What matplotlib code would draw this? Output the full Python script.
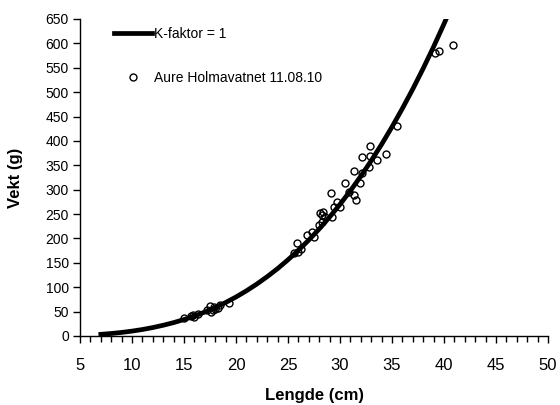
import matplotlib.pyplot as plt
from matplotlib.ticker import MultipleLocator

plt.rcParams['font.family'] = ['Liberation Sans', 'DejaVu Sans']

# Reference curve, condition factor K = 1 (weight in g per length in cm)
k_length = [7, 8, 9, 10, 11, 12, 13, 14, 15, 16, 17, 18, 19, 20, 21, 22, 23, 24,
            25, 26, 27, 28, 29, 30, 31, 32, 33, 34, 35, 36, 37, 38, 39, 40, 41]
k_weight = [3.4, 5.1, 7.3, 10.0, 13.3, 17.3, 22.0, 27.4, 33.8, 41.0, 49.1, 58.3,
            68.6, 80.0, 92.6, 106.5, 121.7, 138.2, 156.3, 175.8, 196.8, 219.5,
            243.9, 270.0, 297.9, 327.7, 359.4, 393.0, 428.8, 466.6, 506.5,
            548.7, 593.2, 640.0, 689.2]

# Trout caught in Holmavatnet 11.08.10
fish_length = [15.0, 15.7, 15.9, 16.0, 16.3, 17.2, 17.5, 17.6, 17.8, 17.9, 18.0,
               18.3, 18.5, 19.3,
               25.6, 25.9, 26.0, 26.2, 26.8, 27.3, 27.5, 28.0, 28.1, 28.3, 28.3,
               28.4, 28.6, 29.1, 29.2, 29.4, 29.7, 30.0, 30.5, 30.9, 31.3, 31.3,
               31.5, 31.9, 32.1, 32.1, 32.8, 32.9, 32.9, 33.6, 34.4, 35.5,
               39.1, 39.5, 40.9]
fish_weight = [36, 40, 43, 39, 46, 53, 61, 50, 53, 60, 55,
               58, 64, 67,
               170, 190, 173, 178, 207, 214, 204, 228, 253, 248, 234,
               255, 245, 294, 245, 265, 274, 265, 313, 296, 338, 289,
               279, 314, 366, 334, 347, 390, 369, 361, 373, 431,
               580, 584, 596]

fig = plt.figure(figsize=(5.6, 4.05), dpi=100)
ax = fig.add_axes([0.1429, 0.1704, 0.8357, 0.7827])

ax.plot(k_length, k_weight, color='black', linewidth=3.4,
        label='K-faktor = 1', zorder=2)
ax.plot(fish_length, fish_weight, linestyle='none', marker='o', markersize=5,
        markerfacecolor='none', markeredgecolor='black', markeredgewidth=1,
        label='Aure Holmavatnet 11.08.10', zorder=3)

ax.set_xlim(5, 50)
ax.set_ylim(0, 650)
ax.xaxis.set_major_locator(MultipleLocator(5))
ax.xaxis.set_minor_locator(MultipleLocator(1))
ax.yaxis.set_major_locator(MultipleLocator(50))

for side in ['top', 'right']:
    ax.spines[side].set_visible(False)
ax.spines['left'].set_linewidth(1)
ax.spines['bottom'].set_linewidth(1)

ax.tick_params(axis='x', which='major', direction='out', length=5, width=1,
               labelsize=12, pad=11)
ax.tick_params(axis='x', which='minor', direction='out', length=4, width=1)
ax.tick_params(axis='y', which='major', direction='out', length=5, width=1,
               labelsize=10, pad=3)

ax.set_xlabel('Lengde (cm)', fontsize=12, fontweight='bold', labelpad=11)
ax.set_ylabel('Vekt (g)', fontsize=12, fontweight='bold', labelpad=16)

ax.legend(loc='upper left', bbox_to_anchor=(0.045, 1.015), frameon=False,
          fontsize=10, handlelength=2.8, handletextpad=0.1,
          labelspacing=2.2)

fig.savefig('out.png', dpi=100)
